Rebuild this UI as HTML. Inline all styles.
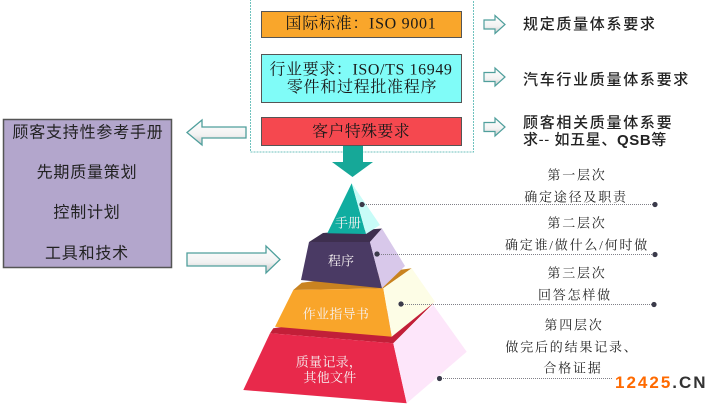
<!DOCTYPE html>
<html><head><meta charset="utf-8"><style>
html,body{margin:0;padding:0;background:#fff;width:720px;height:406px;overflow:hidden}
svg{display:block}
.serif{font-family:"Liberation Serif","Noto Serif CJK SC",serif}
.sans{font-family:"Liberation Sans","Noto Sans CJK SC",sans-serif}
</style></head><body>
<svg width="720" height="406" viewBox="0 0 720 406" xmlns="http://www.w3.org/2000/svg">
<defs>
<linearGradient id="ag" x1="0" y1="0" x2="0" y2="1">
<stop offset="0" stop-color="#ffffff"/><stop offset="0.6" stop-color="#f2f2f2"/><stop offset="1" stop-color="#c8c8c8"/>
</linearGradient>
</defs>

<!-- dashed container -->
<rect x="250.5" y="-1" width="223" height="153" fill="none" stroke="#6fc2be" stroke-width="1" stroke-dasharray="2,1"/>

<!-- boxes -->
<rect x="261.5" y="11.5" width="200" height="26" fill="#f9a62b" stroke="#555" stroke-width="1"/>
<rect x="261.5" y="54.5" width="200" height="48" fill="#80fcf8" stroke="#555" stroke-width="1"/>
<rect x="261.5" y="117.5" width="200" height="28" fill="#f5484f" stroke="#555" stroke-width="1"/>
<g class="serif" font-size="16" fill="#1a1a1a" text-anchor="middle" dominant-baseline="central">
<text x="361" y="24" letter-spacing="0.7">国际标准：ISO 9001</text>
<text x="361" y="70" letter-spacing="0.6">行业要求：ISO/TS 16949</text>
<text x="362" y="87.5" letter-spacing="0.7">零件和过程批准程序</text>
<text x="361" y="132" letter-spacing="0.3">客户特殊要求</text>
</g>

<!-- down teal arrow -->
<polygon points="343,146 363,146 363,162 373,162 352.5,177 332,162 343,162" fill="#16a898"/>

<!-- right hollow arrows -->
<g fill="url(#ag)" stroke="#4f9f9c" stroke-width="1.2">
<polygon points="484,20 495,20 495,15.5 505,24.5 495,33.5 495,29 484,29"/>
<polygon points="484,72.5 495,72.5 495,68 505,77 495,86 495,81.5 484,81.5"/>
<polygon points="484,122.5 495,122.5 495,118 505,127 495,136 495,131.5 484,131.5"/>
</g>

<!-- top right texts -->
<g class="sans" font-size="15" fill="#222" font-weight="500" dominant-baseline="central">
<text x="523" y="24.5" letter-spacing="1.7">规定质量体系要求</text>
<text x="523" y="80" letter-spacing="1.7">汽车行业质量体系要求</text>
<text x="523" y="123" letter-spacing="1.7">顾客相关质量体系要</text>
<text x="523" y="140" letter-spacing="0.6">求-- 如五星、<tspan font-weight="bold">QSB</tspan>等</text>
</g>

<!-- left box -->
<rect x="3.5" y="119.5" width="168" height="148" fill="#b3a6cc" stroke="#555" stroke-width="1.5"/>
<g class="sans" font-size="16" fill="#222" text-anchor="middle" dominant-baseline="central">
<text x="88" y="133" letter-spacing="0.8">顾客支持性参考手册</text>
<text x="87" y="173" letter-spacing="0.8">先期质量策划</text>
<text x="87" y="213" letter-spacing="0.8">控制计划</text>
<text x="87" y="254" letter-spacing="0.8">工具和技术</text>
</g>

<!-- left / right hollow arrows -->
<g fill="url(#ag)" stroke="#4f9f9c" stroke-width="1.3">
<polygon points="187,132.5 202,120 202,127 246,127 246,138 202,138 202,145"/>
<polygon points="187,253 266,253 266,246 280,259.5 266,273 266,266 187,266"/>
</g>

<!-- pyramid tier 4 -->
<polygon points="273.3,328.3 433.3,303.3 393.3,343.3 270,333.3" fill="#c21f38"/>
<polygon points="270,333.3 393.3,343.3 406.7,403.3 243.3,390" fill="#e8294b"/>
<polygon points="393.3,343.3 433.3,305 466.7,351.7 406.7,403.3" fill="#fde6fa"/>
<!-- tier 3 -->
<polygon points="301.7,282.7 411.7,268.3 383.3,288.3 293.3,290" fill="#c98320"/>
<polygon points="293.3,290 383.3,288.3 391.7,336.7 275,326.7" fill="#f9a52a"/>
<polygon points="383.3,288.3 411.7,268.3 435,301.7 391.7,336.7" fill="#fdfde6"/>
<!-- tier 2 -->
<polygon points="323,233 382,228.5 370,242 309,242" fill="#3e2f4f"/>
<polygon points="309,242 370,242 382,288.3 301,280" fill="#4a3a64"/>
<polygon points="370,242 382,228.5 405,266 382,288.3" fill="#d8c8ea"/>
<!-- tier 1 -->
<polygon points="351.7,183.3 327.3,233.3 366,234" fill="#10ada0"/>
<polygon points="351.7,183.3 380,225 366,234" fill="#c8fcf8"/>

<!-- pyramid labels -->
<g class="serif" font-size="13" fill="#f6f2f2" text-anchor="middle" dominant-baseline="central">
<text x="348" y="223">手册</text>
<text x="341" y="261">程序</text>
<text x="336" y="314" letter-spacing="0.3">作业指导书</text>
<text x="329" y="362" letter-spacing="0.3">质量记录，</text>
<text x="330" y="377.5" letter-spacing="0.3">其他文件</text>
</g>

<!-- dotted leader lines -->
<g stroke="#808088" stroke-width="1" stroke-dasharray="1,1">
<line x1="362" y1="204.5" x2="655" y2="204.5"/>
<line x1="377" y1="254.5" x2="655" y2="254.5"/>
<line x1="401" y1="304.5" x2="654" y2="304.5"/>
<line x1="439" y1="378.5" x2="612" y2="378.5"/>
</g>
<g fill="#3a3a4a">
<circle cx="362" cy="204.5" r="2.6"/><circle cx="655" cy="204.5" r="2.6"/>
<circle cx="377" cy="254" r="2.6"/><circle cx="655" cy="254.5" r="2.6"/>
<circle cx="401" cy="304" r="2.6"/><circle cx="654" cy="304.5" r="2.6"/>
<circle cx="439.5" cy="378.5" r="2.6"/>
</g>

<!-- layer texts -->
<g class="serif" font-size="13" fill="#222" text-anchor="middle" dominant-baseline="central" letter-spacing="1.8">
<text x="577" y="175">第一层次</text>
<text x="576" y="197">确定途径及职责</text>
<text x="577" y="223">第二层次</text>
<text x="577" y="245">确定谁/做什么/何时做</text>
<text x="577" y="273">第三层次</text>
<text x="575" y="295">回答怎样做</text>
<text x="574" y="325">第四层次</text>
<text x="572" y="347">做完后的结果记录、</text>
<text x="573" y="368">合格证据</text>
</g>

<!-- watermark -->
<text x="615" y="388" font-family="Liberation Sans, sans-serif" font-weight="bold" font-size="17" letter-spacing="2"><tspan fill="#ff6a00">12425</tspan><tspan fill="#333">.CN</tspan></text>
</svg>
</body></html>
